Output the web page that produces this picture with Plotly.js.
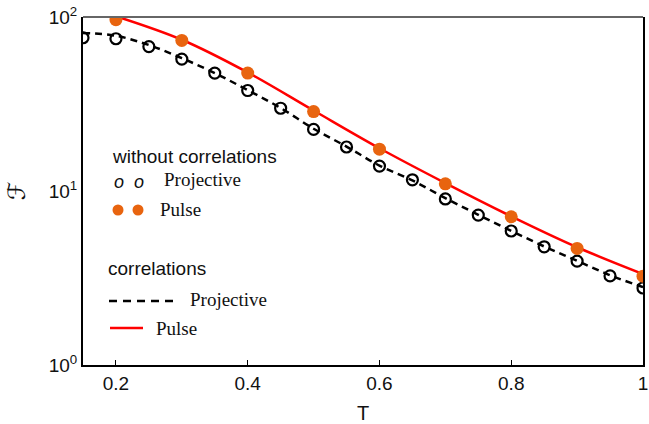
<!DOCTYPE html>
<html>
<head>
<meta charset="utf-8">
<script src="https://cdn.plot.ly/plotly-3.0.1.min.js"></script>
<style>html,body{margin:0;padding:0;background:#fff;}#chart{width:649px;height:424px;}</style>
</head>
<body>
<div id="chart"></div>
<script>
// Without correlations, projective measurement (open circles)
const tProjPts = [0.15,0.2,0.25,0.3,0.35,0.4,0.45,0.5,0.55,0.6,0.65,0.7,0.75,0.8,0.85,0.9,0.95,1.0];
const fProjPts = [76.0,75.0,67.6,57.3,47.6,37.8,29.9,22.6,17.9,13.9,11.6,9.0,7.27,5.89,4.78,3.95,3.25,2.77];
// Without correlations, pulse (orange dots)
const tPulsePts = [0.2,0.3,0.4,0.5,0.6,0.7,0.8,0.9,1.0];
const fPulsePts = [96.5,73.3,47.6,28.6,17.4,11.0,7.11,4.68,3.24];
// With correlations, projective (dashed line)
const tProjLine = [0.15,0.2,0.25,0.3,0.35,0.4,0.45,0.5,0.55,0.6,0.65,0.7,0.75,0.8,0.85,0.9,0.95,1.0];
const fProjLine = [81,78,69,58,47.6,38,30,22.8,18,14,11.5,9.1,7.3,5.9,4.8,3.97,3.28,2.8];
// With correlations, pulse (red line)
const tPulseLine = [0.2,0.3,0.4,0.5,0.6,0.7,0.8,0.9,1.0];
const fPulseLine = [101,74,48,29,17.6,11.1,7.15,4.75,3.33];

const xTicks = [0.2,0.4,0.6,0.8,1];
const xTickText = ['0.2','0.4','0.6','0.8','1'];
const yTicks = [1,10,100];
const yTickText = ['10<sup>0</sup>','10<sup>1</sup>','10<sup>2</sup>'];

const orange = '#E8640F';

const traces = [
  {x:tProjLine, y:fProjLine, mode:'lines', line:{color:'#000', width:2.5, dash:'7px,5px', shape:'spline'}, hoverinfo:'skip'},
  {x:tPulseLine, y:fPulseLine, mode:'lines', line:{color:'#FF0000', width:2.5, shape:'spline'}, hoverinfo:'skip'},
  {x:tProjPts, y:fProjPts, mode:'markers', marker:{symbol:'circle-open', size:11, color:'#000', line:{width:2.2, color:'#000'}}, cliponaxis:true},
  {x:tPulsePts, y:fPulsePts, mode:'markers', marker:{symbol:'circle', size:13, color:orange}, cliponaxis:true}
];

const serif = 'Liberation Serif, Times New Roman, serif';
const sans = 'Liberation Sans, Arial, sans-serif';

function px(X){return (X-83)/560;}
function py(Y){return (365-Y)/348;}

const annotations = [
  {text:'without correlations', x:px(110), y:py(157), xanchor:'left', yanchor:'middle', font:{family:sans, size:19, color:'#111'}},
  {text:'<i>o</i>  <i>o</i>', x:px(112), y:py(182), xanchor:'left', yanchor:'middle', font:{family:sans, size:18, color:'#111'}},
  {text:'Projective', x:px(162), y:py(180), xanchor:'left', yanchor:'middle', font:{family:serif, size:19, color:'#111'}},
  {text:'Pulse', x:px(158), y:py(209), xanchor:'left', yanchor:'middle', font:{family:serif, size:19, color:'#111'}},
  {text:'correlations', x:px(106), y:py(268), xanchor:'left', yanchor:'middle', font:{family:sans, size:19, color:'#111'}},
  {text:'Projective', x:px(188), y:py(299), xanchor:'left', yanchor:'middle', font:{family:serif, size:19, color:'#111'}},
  {text:'Pulse', x:px(154), y:py(328), xanchor:'left', yanchor:'middle', font:{family:serif, size:19, color:'#111'}}
].map(a => Object.assign({xref:'paper', yref:'paper', showarrow:false}, a));

const dotW = 11/560, dotH = 11/348;
const shapes = [
  {type:'line', xref:'paper', yref:'paper', x0:0, x1:1, y0:1, y1:1, line:{color:'#666', width:2}},
  {type:'circle', xref:'paper', yref:'paper', x0:px(118)-dotW/2, x1:px(118)+dotW/2, y0:py(210)-dotH/2, y1:py(210)+dotH/2, fillcolor:orange, line:{width:0}},
  {type:'circle', xref:'paper', yref:'paper', x0:px(138)-dotW/2, x1:px(138)+dotW/2, y0:py(210)-dotH/2, y1:py(210)+dotH/2, fillcolor:orange, line:{width:0}},
  {type:'line', xref:'paper', yref:'paper', x0:px(109), x1:px(174), y0:py(301), y1:py(301), line:{color:'#000', width:2.5, dash:'8px,6px'}},
  {type:'line', xref:'paper', yref:'paper', x0:px(110), x1:px(143), y0:py(328), y1:py(328), line:{color:'#FF0000', width:2.5}}
];

const layout = {
  width:649, height:424,
  margin:{l:83, r:6, t:17, b:59},
  paper_bgcolor:'#fff', plot_bgcolor:'#fff',
  showlegend:false,
  font:{family:sans, color:'#111'},
  xaxis:{
    range:[0.15,1.0], tickvals:xTicks, ticktext:xTickText,
    showgrid:false, zeroline:false, showline:true, linecolor:'#000', linewidth:2,
    ticks:'inside', ticklen:5, tickcolor:'#000', tickwidth:1,
    tickfont:{family:sans, size:19, color:'#111'},
    title:{text:'T', font:{family:sans, size:20, color:'#111'}, standoff:14}
  },
  yaxis:{
    type:'log', range:[0,2], tickvals:yTicks, ticktext:yTickText,
    showgrid:false, zeroline:false, showline:true, mirror:true, linecolor:'#000', linewidth:2,
    ticks:'', tickfont:{family:sans, size:19, color:'#111'},
    title:{text:'ℱ', font:{family:'DejaVu Sans', size:24, color:'#111'}, standoff:16}
  },
  annotations:annotations,
  shapes:shapes
};

Plotly.newPlot('chart', traces, layout, {staticPlot:true, displayModeBar:false});
</script>
</body>
</html>
